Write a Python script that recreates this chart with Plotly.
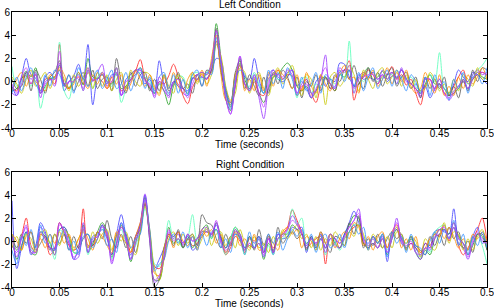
import plotly.graph_objects as go

# sampling grid (seconds), 0.005 s steps from 0 to 0.5
TIME = [round(i * 0.005, 3) for i in range(101)]
X_TICKS = [0, 0.05, 0.1, 0.15, 0.2, 0.25, 0.3, 0.35, 0.4, 0.45, 0.5]
X_TICK_LABELS = ["0", "0.05", "0.1", "0.15", "0.2", "0.25", "0.3", "0.35", "0.4", "0.45", "0.5"]
Y_TICKS = [-4, -2, 0, 2, 4, 6]
Y_TICK_LABELS = ["-4", "-2", "0", "2", "4", "6"]

CHANNEL_COLORS = ["#ff1a1a", "#1f9e1f", "#3a3aff", "#55ffb8", "#9a33ff",
                  "#5a5a5a", "#c8c800", "#ff8c00", "#2f8fff", "#c040ff"]

LEFT = [
    # red
    [-0.5,-0.8,0.3,0.5,-0.2,0.6,-0.8,0.2,0.3,-0.2,
     3.2,-0.3,-0.6,0.1,0.4,-0.2,0.8,0.1,0.3,0.0,
     -0.6,0.0,0.7,-0.8,-0.4,0.2,0.9,1.9,0.3,-0.5,
     -1.0,0.0,-0.2,0.5,1.5,0.4,-1.2,-1.9,-0.5,0.2,
     0.6,0.2,1.0,3.5,1.2,-1.0,-2.0,-0.3,1.6,-0.2,
     -0.8,0.0,-1.0,-1.2,0.3,0.6,1.0,0.2,0.6,0.5,
     -1.2,-0.6,0.2,-1.0,-1.8,-0.4,0.3,-0.2,-0.8,0.6,
     1.0,1.8,-1.6,-0.2,0.4,1.0,0.6,-0.2,0.5,0.6,
     1.3,0.2,0.6,-0.3,0.2,-1.0,-2.0,-0.4,0.2,-0.6,
     -0.2,-1.0,-1.2,-0.4,0.4,1.0,-0.2,0.2,0.6,0.8,0.6],
    # green
    [-0.8,-0.6,0.2,0.9,0.4,1.2,-1.0,-0.4,0.2,0.4,
     1.4,-0.2,-0.5,0.0,0.8,-0.3,2.0,0.4,0.3,0.6,
     0.0,-0.2,1.2,-0.6,-0.4,0.2,0.6,1.2,0.2,-0.6,
     -1.0,-0.2,-0.8,-2.0,-0.4,0.3,-0.6,-1.0,0.3,0.6,
     0.8,0.6,1.5,5.0,2.0,-1.5,-2.5,-0.4,2.0,0.2,
     -0.6,0.2,-1.0,-1.8,-0.6,0.4,0.6,1.2,1.6,1.0,
     -0.4,-0.8,-0.4,-1.4,-0.8,0.2,0.4,-0.2,-0.8,0.6,
     0.4,1.0,-0.4,-0.2,0.6,1.2,0.2,0.4,0.9,0.2,
     0.8,0.3,1.0,0.2,-0.2,-0.6,-1.0,-0.2,0.6,-0.2,
     -0.2,-0.6,-1.2,-1.0,-0.6,0.0,-0.6,0.2,0.8,0.4,0.2],
    # blue
    [-0.4,-1.2,0.4,2.0,0.6,0.3,-1.0,0.4,0.8,0.2,
     1.0,-0.8,0.0,0.5,1.5,0.2,3.2,-2.0,0.2,0.6,
     -0.2,0.6,0.6,-1.2,0.2,0.6,1.0,0.6,-0.2,0.2,
     -0.8,1.8,-0.2,-1.0,0.0,-0.4,-0.6,-0.8,0.3,0.2,
     0.4,0.3,1.0,2.0,1.8,-0.6,-1.8,0.4,1.4,0.4,
     0.2,2.0,0.2,-1.0,0.6,1.0,0.2,0.0,0.4,1.0,
     -0.4,0.0,-0.6,-1.4,0.0,0.4,-0.4,0.2,0.0,1.6,
     1.5,0.4,-0.4,0.6,0.2,0.4,0.8,0.2,0.6,0.0,
     0.5,0.4,1.0,0.3,-0.6,-0.2,-0.8,-0.4,-1.4,-0.6,
     0.2,-0.6,-1.0,-0.2,1.0,0.4,0.0,0.8,0.6,0.2,-0.2],
    # aquamarine
    [1.3,-0.4,0.0,0.6,-0.4,0.8,-2.3,-0.6,0.4,0.2,
     3.4,-0.8,-1.5,0.2,0.6,-0.8,1.0,-0.6,0.4,0.8,
     0.2,-0.4,0.8,-1.8,-0.6,0.4,0.6,0.8,0.4,0.0,
     -1.0,-0.2,-0.4,-1.2,0.0,0.5,0.4,-0.6,0.6,0.8,
     0.2,0.8,1.4,4.2,1.2,-1.0,-2.0,0.6,1.6,-0.2,
     -0.4,0.8,-0.2,-1.0,0.2,0.6,0.2,0.2,0.8,0.4,
     -1.4,0.2,0.4,-1.0,-0.2,-0.4,0.2,0.3,-0.2,0.6,
     0.4,3.5,-1.0,0.4,0.0,0.4,0.2,0.0,0.4,0.6,
     0.6,-0.2,0.4,0.2,0.4,-0.4,-0.8,0.2,0.6,0.0,
     2.5,-0.6,-1.0,-0.8,-0.4,0.2,-0.2,0.6,1.0,1.4,2.0],
    # purple
    [-1.0,-1.2,-0.2,0.8,0.2,0.6,-1.4,0.0,0.2,-0.4,
     1.6,-0.4,0.0,0.4,0.2,-0.6,1.0,0.0,0.8,1.5,
     -0.4,0.4,0.8,-1.2,-0.6,0.0,1.0,1.0,0.0,-0.2,
     -1.4,0.0,-0.8,-1.2,0.0,-0.2,-1.0,-1.2,0.2,0.6,
     0.4,0.2,1.2,4.4,1.6,-1.4,-2.8,-0.4,2.2,-0.2,
     -0.6,0.4,-1.4,-3.2,-0.4,1.0,0.4,0.2,0.8,1.0,
     -1.0,-0.2,0.2,-1.0,-0.8,0.2,2.3,-0.6,-0.4,0.8,
     1.0,1.0,-0.6,0.4,0.8,0.4,0.2,-0.2,1.0,0.6,
     0.8,-0.2,1.2,0.0,-0.2,-0.6,-1.4,0.2,0.2,-0.8,
     -0.2,-1.0,-1.6,-1.0,-0.4,0.0,-0.6,0.6,1.0,0.6,0.8],
    # gray
    [0.2,-0.6,-0.4,0.8,-0.8,1.0,0.2,-1.0,0.4,0.8,
     1.8,-0.2,0.6,-0.8,0.0,0.8,-0.4,1.0,-0.6,0.2,
     0.4,-0.8,2.0,0.0,-1.0,0.8,-0.4,0.6,0.8,-0.8,
     0.2,-0.8,0.6,-0.8,-0.2,0.8,-0.6,-0.2,-1.0,0.6,
     -0.4,1.0,0.8,4.6,0.8,-0.8,-2.2,0.8,1.8,-0.6,
     0.6,-0.4,-1.2,0.4,-1.0,0.8,-0.2,1.0,0.4,-0.6,
     0.4,-1.4,0.0,-0.4,0.6,-0.8,0.4,-0.6,0.6,0.0,
     1.0,0.2,1.4,0.0,-0.6,1.2,0.0,0.8,-0.4,0.6,
     1.2,-0.4,0.4,0.8,-0.2,0.4,-1.4,0.4,-0.6,0.2,
     -0.6,0.4,-1.2,-0.4,-1.4,0.2,-0.8,1.0,0.0,1.2,1.0],
    # yellow
    [0.4,-0.2,-1.0,0.2,1.0,-0.4,0.2,0.8,-0.6,0.4,
     1.0,0.2,-0.8,0.6,-0.4,0.4,1.2,-0.6,0.8,-0.4,
     0.6,-0.8,0.2,0.8,-0.6,1.0,0.0,-0.4,0.8,0.6,
     -0.6,-1.0,0.6,-0.4,-1.0,0.6,0.2,-0.6,0.8,-0.2,
     0.8,-0.2,0.6,3.2,2.2,-0.4,-1.6,-1.0,1.2,0.8,
     -1.0,0.2,0.8,-0.6,-1.2,0.4,1.2,-0.2,0.6,1.4,
     -0.2,-1.2,0.6,0.2,-1.4,0.6,-2.0,0.4,0.8,-0.4,
     0.2,1.4,0.6,-0.8,1.0,0.2,-0.6,0.8,1.2,-0.2,
     0.4,1.0,-0.4,0.6,-0.6,0.2,-0.8,-0.6,0.8,0.2,
     -0.8,-0.2,-1.0,0.2,-0.8,0.6,0.2,-0.4,1.2,0.2,0.6],
    # orange
    [-0.8,0.2,0.8,-0.4,0.6,0.0,-0.4,-0.8,0.6,0.4,
     1.2,0.6,-0.6,-0.2,0.8,0.0,-0.6,0.6,-0.2,0.8,
     -0.6,0.4,-0.2,0.6,-0.8,-0.2,1.0,0.2,-0.4,0.6,
     -0.4,-1.2,0.4,-0.6,0.8,-0.4,-1.0,0.2,0.8,0.0,
     1.0,-0.4,2.0,4.0,0.6,-1.6,-1.8,0.6,1.4,-0.8,
     0.2,-0.8,0.6,-0.8,0.8,-0.4,1.0,0.6,0.2,-0.6,
     0.6,-0.8,0.8,-0.4,-1.0,0.6,-0.2,-0.8,0.4,0.8,
     1.4,0.2,0.4,-1.0,0.8,0.2,1.0,-0.4,0.2,1.2,
     -0.2,0.8,0.0,1.0,-0.4,-1.0,-0.6,0.8,-0.2,-1.0,
     0.6,-1.2,-0.4,-1.2,0.4,-0.6,0.6,-0.2,0.4,1.2,0.2],
    # light blue
    [-1.0,0.4,-0.8,0.4,1.2,-0.2,-0.8,0.6,-0.4,1.0,
     0.6,-0.4,0.6,-1.0,1.2,0.2,-0.4,0.2,1.0,-0.6,
     0.2,1.0,-0.6,-0.2,0.8,-0.8,0.4,1.2,-0.6,0.4,
     -1.0,0.4,0.8,-0.6,0.6,-1.0,0.2,-1.2,0.6,1.0,
     -0.4,0.8,0.6,3.8,1.6,-0.8,-2.4,0.2,1.0,0.6,
     -0.8,0.6,-0.4,-1.0,1.0,-0.2,0.8,-0.6,1.2,0.2,
     -1.2,0.4,-0.8,-0.2,0.8,-1.0,0.6,0.2,-0.6,1.0,
     0.0,1.0,-0.4,0.8,-0.8,0.4,1.2,-0.6,0.2,1.0,
     -0.4,1.0,0.2,-0.8,0.6,0.0,-1.0,0.4,-1.2,0.6,
     -0.4,0.0,-1.6,0.2,-0.6,0.8,-1.0,0.4,0.6,-0.2,1.2],
    # violet
    [-0.2,-1.0,0.4,1.2,-0.2,0.8,-1.0,-0.2,0.2,0.2,
     2.6,-0.2,0.0,0.0,0.6,-0.8,1.2,0.2,0.2,0.8,
     0.0,0.0,1.2,-1.2,0.0,0.2,0.6,1.0,0.2,-0.4,
     -1.2,0.4,-0.4,-1.4,0.0,0.2,-0.6,-1.4,-0.2,0.6,
     0.8,0.6,1.6,4.4,1.8,-1.4,-2.8,-0.2,2.2,-0.2,
     -0.8,0.6,-1.0,-2.2,0.0,0.6,0.6,0.4,1.0,0.6,
     -1.0,-0.4,-0.2,-1.4,-0.6,0.4,1.2,-0.2,-0.6,1.2,
     0.8,1.4,-1.0,0.2,0.4,0.6,0.6,0.2,0.6,0.2,
     0.8,0.2,1.0,0.2,-0.2,-0.6,-1.2,0.2,0.2,-0.6,
     0.2,-1.0,-1.4,-0.8,-0.4,0.2,-0.6,0.2,0.8,0.8,0.6],
]

RIGHT = [
    # red
    [0.2,-0.8,0.4,2.0,-0.4,-1.0,0.6,0.2,-1.2,-0.6,
     1.6,0.6,-0.4,-0.8,-0.4,2.8,-0.4,-0.4,0.2,1.4,
     0.4,-1.2,0.4,1.2,0.6,-1.0,0.4,1.0,3.3,0.6,
     -2.2,-2.4,-1.6,0.6,0.4,0.8,-0.6,0.2,-0.4,-0.2,
     0.4,0.8,0.6,1.0,0.2,-1.2,-0.6,0.4,0.0,-1.0,
     0.2,0.0,0.4,-1.0,0.2,-0.6,0.2,0.6,1.2,2.7,
     1.8,0.8,-0.6,-0.2,0.2,0.4,-2.0,0.6,0.2,-0.6,
     0.2,0.8,1.2,1.4,-0.2,-0.6,0.4,-0.2,0.6,-0.6,
     0.8,1.4,0.2,-0.6,-0.2,-0.6,-1.0,-0.2,-0.4,0.6,
     0.4,1.4,0.0,1.2,-0.4,-1.2,-0.6,0.2,1.0,2.0,0.0],
    # green
    [0.6,-1.6,-0.4,0.8,-1.0,-1.2,0.8,0.4,-0.2,-1.2,
     1.0,1.2,0.4,-1.0,-1.0,1.4,-1.0,-0.2,0.8,1.6,
     0.8,-1.4,-0.2,1.4,0.2,-1.8,-0.2,1.4,3.8,0.0,
     -3.4,-3.4,-1.4,1.2,-0.2,0.2,-0.6,0.6,-0.6,0.2,
     1.0,1.4,0.2,1.6,0.4,-0.6,0.2,1.2,0.6,-0.6,
     -0.4,-0.6,-0.2,-1.6,-0.2,-0.8,0.2,0.6,0.6,1.4,
     1.0,0.6,-0.2,0.2,-0.6,0.2,-0.6,0.6,-0.2,-0.6,
     0.6,1.4,2.2,2.0,-0.2,-0.6,-0.2,-0.6,0.2,-1.2,
     0.2,1.0,0.2,-0.2,0.4,-1.0,-1.6,-0.8,-1.2,0.2,
     1.0,1.0,0.6,1.6,0.4,-0.2,-1.2,-0.4,0.6,0.4,-0.8],
    # blue
    [3.5,-2.4,-0.6,0.8,-1.2,-0.4,1.6,0.8,-0.6,-0.8,
     1.0,1.2,0.2,-1.6,-0.6,1.0,-1.0,0.4,0.6,1.0,
     0.2,-1.2,0.6,2.3,0.4,-1.6,0.4,1.4,4.0,0.6,
     -2.4,-1.6,-0.6,0.6,0.4,0.8,-0.2,0.4,-0.8,-0.4,
     0.8,0.8,0.6,1.4,0.2,-0.6,0.4,0.6,0.4,-1.2,
     0.4,-0.2,0.4,-1.0,0.4,-1.2,0.6,0.2,0.4,1.2,
     1.0,1.2,-1.0,0.4,-0.6,0.6,-0.6,0.2,0.2,-0.2,
     0.6,1.6,2.6,1.6,0.2,-0.2,0.4,-0.2,0.6,-1.8,
     0.6,1.0,-0.2,-0.6,0.4,-0.6,-1.2,-0.2,-0.6,0.8,
     1.0,0.8,0.6,2.8,0.2,-0.2,-0.8,0.4,1.2,-0.2,0.2],
    # aquamarine
    [0.2,-0.8,0.2,0.6,-0.6,-1.0,0.8,0.6,-0.2,-1.6,
     1.0,0.6,0.2,-1.0,-1.0,1.2,-1.2,0.2,0.6,1.0,
     0.8,-1.6,0.2,1.0,-0.2,-1.2,-0.4,0.8,2.8,0.8,
     -2.0,-2.2,-0.8,1.8,0.2,0.0,-0.6,0.2,2.3,0.0,
     0.6,1.2,0.2,1.0,-0.2,-1.2,0.2,1.2,0.2,-1.2,
     0.4,-0.6,0.2,-1.4,-0.4,-1.2,0.2,0.2,0.8,2.8,
     1.4,2.0,-0.8,0.2,-0.8,0.6,-1.2,0.6,0.0,-0.8,
     0.2,0.8,1.4,1.4,0.4,-0.4,0.2,-0.2,0.6,-0.8,
     0.6,1.2,0.4,-0.6,0.2,-1.0,-1.4,-0.6,-1.0,0.8,
     1.2,1.4,0.2,1.2,-0.2,-0.6,-0.8,0.2,0.6,-0.4,-2.0],
    # purple
    [-0.4,-1.0,0.2,1.2,-0.8,-1.0,1.2,0.6,-0.6,-0.6,
     1.6,0.8,-0.2,-1.6,-1.4,1.6,-0.6,0.0,0.4,1.4,
     0.6,-2.0,-0.2,1.6,0.0,-1.2,0.2,1.6,4.1,0.0,
     -3.6,-3.2,-1.4,0.8,0.2,0.6,-0.4,0.6,0.0,0.2,
     0.6,1.0,0.4,1.6,0.0,-1.0,-0.2,0.8,0.6,-0.6,
     -0.2,-0.6,0.2,-1.4,0.2,-1.0,0.6,0.4,1.0,2.2,
     1.6,0.6,-0.6,0.2,-0.2,0.6,-1.0,0.2,-0.4,-0.6,
     0.4,1.2,1.8,2.8,0.0,-0.6,-0.2,-0.6,0.4,-1.0,
     0.2,2.0,0.0,-0.6,-0.2,-1.0,-1.6,-0.6,-0.8,0.4,
     0.6,1.0,0.2,1.2,-0.2,-0.6,-1.6,-0.2,0.6,0.2,-0.2],
    # gray
    [0.4,-0.6,0.6,-0.2,0.8,-0.8,-0.2,0.4,-0.8,0.6,
     -0.2,0.6,-0.8,0.4,-0.6,0.2,0.6,-0.4,0.8,0.2,
     1.8,0.2,-0.6,0.6,-0.6,0.4,-1.0,0.8,3.2,0.4,
     -4.0,-3.4,-0.6,0.4,-0.4,1.0,-0.6,0.2,0.6,-0.4,
     2.3,1.6,1.4,0.2,-0.6,0.6,-0.4,1.0,0.2,-0.8,
     0.4,-0.8,1.0,-0.4,0.6,-1.0,1.2,-0.2,0.4,0.8,
     0.2,0.6,-0.8,0.4,-0.4,0.8,-0.2,-1.0,0.4,0.2,
     -0.4,1.6,0.6,2.2,-0.6,0.2,-0.4,0.6,-0.6,0.2,
     0.8,0.2,0.6,-0.8,0.2,-0.4,-0.8,-1.2,0.4,-0.4,
     0.6,-0.4,1.2,0.2,0.8,-0.6,0.0,-1.0,0.6,0.6,-0.8],
    # yellow
    [-0.6,0.4,-0.8,0.6,0.2,-1.0,0.4,1.0,-0.2,0.6,
     -0.4,1.0,0.4,-0.8,0.2,0.8,-0.6,0.8,-0.2,0.6,
     1.0,-0.8,0.6,0.0,0.8,-0.6,-1.2,0.8,3.0,1.0,
     -2.4,-3.4,-1.6,0.2,0.8,-0.4,0.6,-0.2,0.6,-0.6,
     0.2,1.2,-0.4,0.6,0.8,-0.4,0.4,-0.6,1.0,-0.2,
     -0.8,0.4,-0.6,-0.2,-1.0,0.4,-0.4,1.0,0.2,0.8,
     1.4,0.2,0.6,-0.6,0.4,-0.8,0.2,-0.4,0.8,0.2,
     -0.4,0.8,0.4,1.4,0.6,-0.8,0.6,0.0,-0.6,0.4,
     -0.6,0.8,0.6,-0.8,0.4,0.0,-1.4,0.2,-0.4,-0.8,
     0.4,1.6,-0.2,0.8,0.6,-0.8,0.2,-0.8,0.4,1.0,-0.4],
    # orange
    [0.6,0.0,-0.8,0.4,0.8,-0.4,0.2,-0.6,0.6,-0.2,
     0.8,-0.2,0.6,-0.6,0.2,1.0,0.2,-0.8,0.8,0.4,
     -0.4,-1.0,0.8,0.4,-0.2,-1.0,0.4,1.6,3.4,0.8,
     -2.8,-3.0,-0.6,0.6,-0.6,0.8,0.0,-0.4,0.4,-0.8,
     1.0,0.4,1.0,-0.2,0.6,-1.0,-0.2,0.8,-0.4,0.2,
     -0.6,0.6,-0.8,-0.6,0.4,-0.2,-0.8,0.8,1.2,0.6,
     1.0,-0.6,0.4,0.0,-0.8,0.8,-0.2,0.6,-0.6,0.2,
     0.8,0.2,1.6,1.2,-0.4,0.4,-0.8,0.4,0.8,-0.6,
     0.6,1.2,-0.6,0.2,-0.8,0.4,-1.0,-0.6,0.2,0.6,
     1.0,0.2,1.2,0.4,-0.6,0.2,-0.8,0.6,0.2,0.8,0.0],
    # light blue
    [-0.8,-2.0,0.4,-0.4,1.0,-0.6,1.4,-0.2,0.6,-0.8,
     0.2,1.0,-0.8,0.0,-1.2,0.4,0.6,-0.6,0.2,1.4,
     -0.4,0.2,-1.0,1.6,0.6,-0.6,0.2,0.6,3.6,1.0,
     -2.6,-2.0,-1.6,0.0,0.6,-0.2,0.8,-0.6,0.4,-0.8,
     0.6,-0.4,0.8,1.0,-0.6,0.2,-1.0,0.6,0.2,-0.6,
     0.8,-0.6,0.4,-0.8,0.6,-0.2,0.8,-0.8,0.2,1.0,
     0.4,1.0,-0.4,0.6,-1.0,0.2,0.6,-0.6,-0.2,0.6,
     -0.6,0.8,1.4,0.6,1.2,-0.8,0.4,-0.2,0.6,-1.4,
     0.8,-0.2,0.4,-1.0,0.6,-0.4,-0.6,-1.2,0.0,0.8,
     -0.2,1.0,0.2,1.8,-0.4,0.6,-1.2,0.4,-0.4,0.8,-0.6],
    # violet
    [0.4,-1.4,0.2,1.4,-1.0,-1.0,0.8,0.2,-0.6,-1.2,
     1.4,1.0,-0.2,-1.4,-1.0,1.2,-1.0,0.2,0.4,1.2,
     0.8,-1.8,-0.4,1.2,0.2,-1.6,-0.2,1.2,3.6,0.2,
     -3.4,-3.0,-1.4,1.0,0.0,0.2,-0.2,0.6,0.0,0.2,
     1.0,1.2,0.6,1.8,-0.2,-0.8,-0.2,1.0,0.4,-0.8,
     -0.2,-0.6,-0.2,-1.2,0.2,-1.0,0.2,0.6,1.0,1.8,
     1.4,0.6,-0.4,0.2,-0.2,0.2,-0.6,0.6,0.2,-0.2,
     0.4,1.2,1.8,2.4,0.2,-0.4,0.2,-0.6,0.2,-1.0,
     0.4,1.6,0.2,-0.4,0.0,-1.0,-1.2,-0.6,-0.6,0.2,
     1.0,1.2,0.2,1.6,0.2,-0.2,-1.4,0.0,0.8,0.0,-0.2],
]

fig = go.Figure()
for series, ax in [(LEFT, ""), (RIGHT, "2")]:
    for k, ys in enumerate(series):
        fig.add_trace(go.Scatter(
            x=TIME[:len(ys)], y=ys, mode="lines",
            line=dict(color=CHANNEL_COLORS[k], width=1, shape="spline", smoothing=0.9),
            opacity=0.8, showlegend=False, hoverinfo="skip",
            xaxis="x" + ax, yaxis="y" + ax))

axis_common = dict(
    showline=True, linecolor="black", linewidth=1, mirror="allticks",
    ticks="inside", ticklen=4, tickcolor="black", tickwidth=1,
    showgrid=False, zeroline=False, automargin=False, ticklabeloverflow="allow",
    tickfont=dict(family="Liberation Sans, Arial, sans-serif", size=10, color="black"),
)
fig.update_layout(
    width=494, height=308,
    margin=dict(l=12, r=7, t=12, b=21),
    paper_bgcolor="white", plot_bgcolor="white",
    font=dict(family="Liberation Sans, Arial, sans-serif", size=10, color="black"),
    xaxis=dict(domain=[0, 1], range=[0, 0.5], tickvals=X_TICKS, ticktext=X_TICK_LABELS,
               anchor="y", **axis_common),
    yaxis=dict(domain=[0.578, 1], range=[-4, 6], tickvals=Y_TICKS, ticktext=Y_TICK_LABELS,
               anchor="x", **axis_common),
    xaxis2=dict(domain=[0, 1], range=[0, 0.5], tickvals=X_TICKS, ticktext=X_TICK_LABELS,
                anchor="y2", **axis_common),
    yaxis2=dict(domain=[0, 0.418], range=[-4, 6], tickvals=Y_TICKS, ticktext=Y_TICK_LABELS,
                anchor="x2", **axis_common),
    annotations=[
        dict(text="Left Condition", x=0.5, y=1.029, xref="paper", yref="paper",
             showarrow=False, xanchor="center", yanchor="middle", font=dict(size=10)),
        dict(text="Time (seconds)", x=0.5, y=0.517, xref="paper", yref="paper",
             showarrow=False, xanchor="center", yanchor="middle", font=dict(size=10)),
        dict(text="Right Condition", x=0.5, y=0.444, xref="paper", yref="paper",
             showarrow=False, xanchor="center", yanchor="middle", font=dict(size=10)),
        dict(text="Time (seconds)", x=0.5, y=-0.061, xref="paper", yref="paper",
             showarrow=False, xanchor="center", yanchor="middle", font=dict(size=10)),
    ],
)
try:
    fig.update_xaxes(ticklabelstandoff=-4)
    fig.update_yaxes(ticklabelstandoff=-1)
except Exception:
    pass

fig.write_html("out.html", config={"displayModeBar": False},
               post_script="document.body.style.margin='0';document.body.style.overflow='hidden';")
